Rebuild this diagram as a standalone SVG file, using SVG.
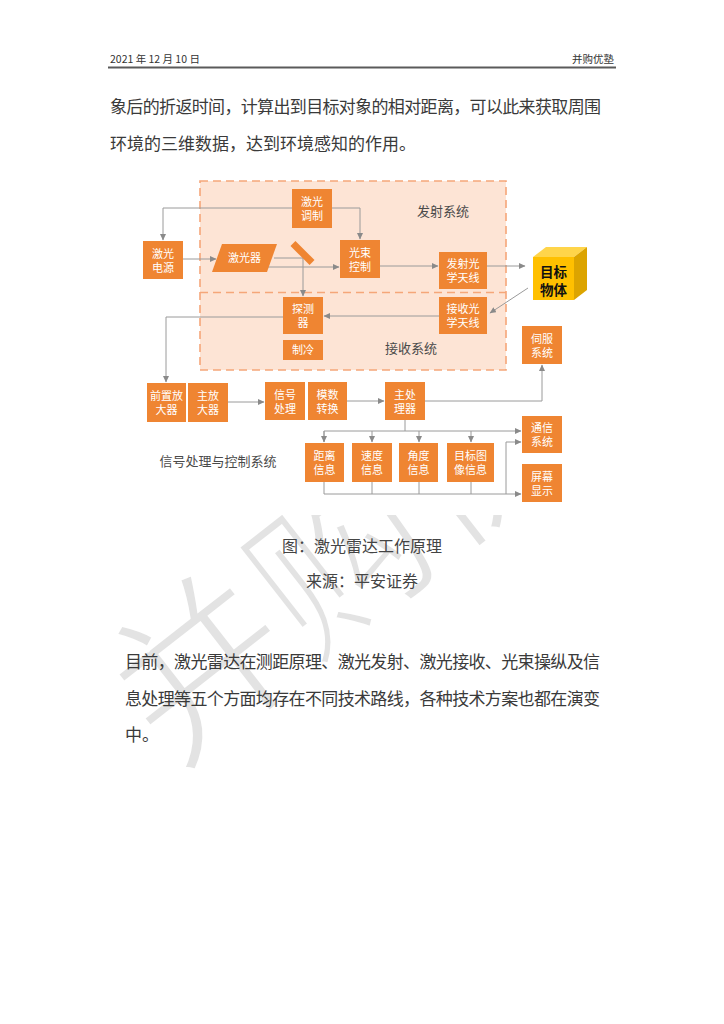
<svg xmlns="http://www.w3.org/2000/svg" width="724" height="1024" viewBox="0 0 724 1024">
<defs>
<style>
.t{font-family:"Noto Sans CJK SC","Noto Sans",sans-serif;}
.box{fill:#ef8532;}
.bt{font-family:"Noto Sans CJK SC",sans-serif;font-size:11px;fill:#ffffff;text-anchor:middle;}
.lbl{font-family:"Noto Sans CJK SC",sans-serif;font-size:13px;fill:#4a4a4a;}
.body{font-family:"Noto Sans CJK SC",sans-serif;font-size:17px;fill:#3a3a3a;}
.cap{font-family:"Noto Sans CJK SC",sans-serif;font-size:16px;fill:#444444;text-anchor:middle;}
.ln{fill:none;stroke:#9a9a9a;stroke-width:1;}
.arr{marker-end:url(#ah);}
</style>
<marker id="ah" markerWidth="7" markerHeight="6" refX="6" refY="3" orient="auto" markerUnits="userSpaceOnUse">
<path d="M0,0 L6.5,3 L0,6 z" fill="#8a8a8a"/>
</marker>
<clipPath id="wmclip"><rect x="0" y="515" width="724" height="509"/></clipPath>
</defs>
<rect x="0" y="0" width="724" height="1024" fill="#ffffff"/>
<!-- watermark -->
<g clip-path="url(#wmclip)">
<text x="0" y="0" transform="translate(172,771) rotate(-38)" font-family="Noto Sans CJK SC, sans-serif" font-size="175" fill="#e3e3e3" stroke="#ffffff" stroke-width="5">并购优塾</text>
</g>
<!-- header -->
<g id="header">
<text class="t" x="110" y="63" font-size="10.5" fill="#333">2021 年 12 月 10 日</text>
<text class="t" x="614" y="63" font-size="10.5" fill="#333" text-anchor="end">并购优塾</text>
<line x1="108" y1="67.5" x2="616" y2="67.5" stroke="#5a5a5a" stroke-width="1.8"/>
</g>
<g id="intro">
<text class="body" x="110" y="113" textLength="491" lengthAdjust="spacing">象后的折返时间，计算出到目标对象的相对距离，可以此来获取周围</text>
<text class="body" x="110" y="150">环境的三维数据，达到环境感知的作用。</text>
</g>
<!-- diagram -->
<g id="systems">
<rect x="200" y="181" width="306" height="189" fill="#fde4d5" stroke="#f5a679" stroke-width="1.6" stroke-dasharray="8,5"/>
<line x1="200" y1="292.5" x2="506" y2="292.5" stroke="#f5a679" stroke-width="1.6" stroke-dasharray="8,5"/>
<text class="lbl" x="443" y="216" text-anchor="middle">发射系统</text>
<text class="lbl" x="411" y="353" text-anchor="middle">接收系统</text>
<text class="lbl" x="218" y="466" text-anchor="middle">信号处理与控制系统</text>
</g>
<g id="connectors">
<path class="ln arr" d="M292 208 H163 V240"/>
<path class="ln arr" d="M332 208 H360 V239"/>
<path class="ln arr" d="M183 259 H216"/>
<path class="ln arr" d="M274 258 H303 V296"/>
<path class="ln arr" d="M268 267 H339"/>
<path class="ln arr" d="M380 266 H438"/>
<path class="ln arr" d="M487 266 H525"/>
<path class="ln arr" d="M528 288 L490 313"/>
<path class="ln arr" d="M439 316 H324"/>
<path class="ln arr" d="M283 317 H166 V382"/>
<path class="ln arr" d="M228 402 H264"/>
<path class="ln arr" d="M347 401 H384"/>
<path class="ln arr" d="M425 401 H542 V365"/>
<path class="ln" d="M405 420 V431"/>
<path class="ln arr" d="M324 442 V431 H521"/>
<path class="ln arr" d="M324 431 V442"/>
<path class="ln arr" d="M372 431 V442"/>
<path class="ln arr" d="M419 431 V442"/>
<path class="ln arr" d="M471 431 V442"/>
<path class="ln arr" d="M324 482 V494 H521"/>
<path class="ln" d="M372 482 V494"/>
<path class="ln" d="M419 482 V494"/>
<path class="ln" d="M471 482 V494"/>
<path class="ln arr" d="M506 494 V442 H521"/>
</g>
<g id="n-modulate"><rect class="box" x="292" y="189" width="40" height="39"/><text class="bt" x="312" y="206">激光</text><text class="bt" x="312" y="220">调制</text></g>
<g id="n-power"><rect class="box" x="143" y="241" width="40" height="38"/><text class="bt" x="163" y="257.5">激光</text><text class="bt" x="163" y="271.5">电源</text></g>
<g id="n-laser"><polygon class="box" points="222,244 277,244 267,272 212,272"/><text class="bt" x="244.5" y="262">激光器</text></g>
<g id="n-mirror"><rect class="box" x="-13.5" y="-3.5" width="27" height="7" transform="translate(302.5,253) rotate(45)"/></g>
<g id="n-beam"><rect class="box" x="340" y="240" width="40" height="38"/><text class="bt" x="360" y="256.5">光束</text><text class="bt" x="360" y="270.5">控制</text></g>
<g id="n-txant"><rect class="box" x="439" y="252" width="48" height="37"/><text class="bt" x="463" y="268">发射光</text><text class="bt" x="463" y="282">学天线</text></g>
<g id="n-rxant"><rect class="box" x="439" y="297" width="48" height="37"/><text class="bt" x="463" y="313">接收光</text><text class="bt" x="463" y="327">学天线</text></g>
<g id="n-detector"><rect class="box" x="283" y="297" width="40" height="37"/><text class="bt" x="303" y="313">探测</text><text class="bt" x="303" y="327">器</text></g>
<g id="n-cool"><rect class="box" x="283" y="340" width="40" height="20"/><text class="bt" x="303" y="354">制冷</text></g>
<g id="n-target">
<polygon points="533,257 546,247 587,247 574,257" fill="#ffd54a"/>
<polygon points="574,257 587,247 587,290 574,300" fill="#dca400"/>
<rect x="533" y="257" width="41" height="43" fill="#ffc000"/>
<text class="t" x="553.5" y="276.5" font-size="13.5" font-weight="bold" fill="#111" text-anchor="middle">目标</text>
<text class="t" x="553.5" y="294.5" font-size="13.5" font-weight="bold" fill="#111" text-anchor="middle">物体</text>
</g>
<g id="n-preamp"><rect class="box" x="147" y="383" width="39" height="39"/><text class="bt" x="166.5" y="400">前置放</text><text class="bt" x="166.5" y="414">大器</text></g>
<g id="n-mainamp"><rect class="box" x="188" y="383" width="40" height="39"/><text class="bt" x="208" y="400">主放</text><text class="bt" x="208" y="414">大器</text></g>
<g id="n-sigproc"><rect class="box" x="265" y="382" width="40" height="38"/><text class="bt" x="285" y="398.5">信号</text><text class="bt" x="285" y="412.5">处理</text></g>
<g id="n-adc"><rect class="box" x="308" y="382" width="39" height="38"/><text class="bt" x="327.5" y="398.5">模数</text><text class="bt" x="327.5" y="412.5">转换</text></g>
<g id="n-cpu"><rect class="box" x="385" y="382" width="40" height="38"/><text class="bt" x="405" y="398.5">主处</text><text class="bt" x="405" y="412.5">理器</text></g>
<g id="n-servo"><rect class="box" x="522" y="326" width="40" height="38"/><text class="bt" x="542" y="342.5">伺服</text><text class="bt" x="542" y="356.5">系统</text></g>
<g id="n-comm"><rect class="box" x="522" y="416" width="40" height="37"/><text class="bt" x="542" y="432">通信</text><text class="bt" x="542" y="446">系统</text></g>
<g id="n-screen"><rect class="box" x="522" y="464" width="40" height="38"/><text class="bt" x="542" y="480.5">屏幕</text><text class="bt" x="542" y="494.5">显示</text></g>
<g id="n-dist"><rect class="box" x="305" y="443" width="39" height="39"/><text class="bt" x="324.5" y="460">距离</text><text class="bt" x="324.5" y="474">信息</text></g>
<g id="n-speed"><rect class="box" x="352" y="443" width="40" height="39"/><text class="bt" x="372" y="460">速度</text><text class="bt" x="372" y="474">信息</text></g>
<g id="n-angle"><rect class="box" x="399" y="443" width="39" height="39"/><text class="bt" x="418.5" y="460">角度</text><text class="bt" x="418.5" y="474">信息</text></g>
<g id="n-image"><rect class="box" x="447" y="443" width="47" height="39"/><text class="bt" x="470.5" y="460">目标图</text><text class="bt" x="470.5" y="474">像信息</text></g>
<!-- caption -->
<g id="caption">
<text class="cap" x="362" y="552">图：激光雷达工作原理</text>
<text class="cap" x="362" y="587">来源：平安证券</text>
</g>
<g id="para">
<text class="body" x="125" y="668" textLength="475" lengthAdjust="spacing">目前，激光雷达在测距原理、激光发射、激光接收、光束操纵及信</text>
<text class="body" x="125" y="705" textLength="475" lengthAdjust="spacing">息处理等五个方面均存在不同技术路线，各种技术方案也都在演变</text>
<text class="body" x="125" y="741">中。</text>
</g>
</svg>
